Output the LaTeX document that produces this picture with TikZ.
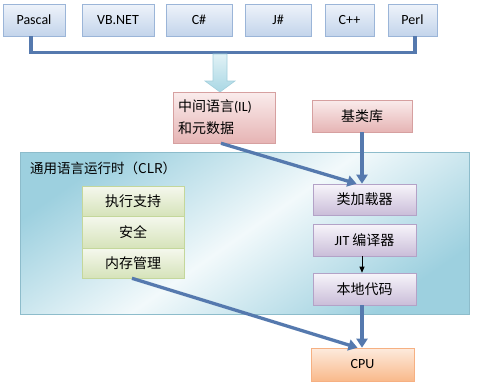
\documentclass[tikz,border=0pt]{standalone}
\usepackage{fontspec}
\setmainfont{Carlito}
\newfontfamily\cjk{Noto Sans CJK SC}
\usetikzlibrary{arrows.meta,shadows}
\definecolor{lnblue}{HTML}{5579AE}
\definecolor{tbTop}{HTML}{EEF3FA}\definecolor{tbBot}{HTML}{C3D4EB}\definecolor{tbLine}{HTML}{9BB5D8}
\definecolor{pkTop}{HTML}{FAECEC}\definecolor{pkBot}{HTML}{E6B4B4}\definecolor{pkLine}{HTML}{D6A0A0}
\definecolor{gnTop}{HTML}{F5F8EE}\definecolor{gnBot}{HTML}{D6E3BA}\definecolor{gnLine}{HTML}{C4D79B}
\definecolor{puTop}{HTML}{F7F5FA}\definecolor{puBot}{HTML}{CABDD9}\definecolor{puLine}{HTML}{B3A2C7}
\definecolor{orTop}{HTML}{FDEBDD}\definecolor{orBot}{HTML}{F9B98B}\definecolor{orLine}{HTML}{F6B082}
\definecolor{clrDark}{HTML}{9DD0DF}\definecolor{clrLight}{HTML}{F2F9FB}\definecolor{clrLine}{HTML}{8DBCCB}
\definecolor{haTop}{HTML}{E2F2F6}\definecolor{haBot}{HTML}{A9D7E4}\definecolor{haLine}{HTML}{A3CFDC}
\begin{document}
\begin{tikzpicture}[x=1pt,y=-1pt,
  every node/.style={font=\fontsize{14pt}{22pt}\selectfont, inner sep=0pt},
  shadowed/.style={drop shadow={opacity=0.25, shadow xshift=1.2pt, shadow yshift=-1.2pt}},
  box/.style={shadowed, draw, line width=0.6pt, minimum width=#1},
  topbox/.style={box=#1, draw=tbLine, top color=tbTop, bottom color=tbBot, minimum height=32},
  pinkbox/.style={box=#1, draw=pkLine, top color=pkTop, bottom color=pkBot},
  greenbox/.style={box=#1, draw=gnLine, top color=gnTop, bottom color=gnBot},
  purplebox/.style={box=#1, draw=puLine, top color=puTop, bottom color=puBot, minimum height=32},
  orangebox/.style={box=#1, draw=orLine, top color=orTop, bottom color=orBot, minimum height=33},
  bigline/.style={draw=lnblue, line width=3.3pt, -{Triangle[width=11pt,length=9pt]}},
  busline/.style={draw=lnblue, line width=3.3pt}
]
\useasboundingbox (0,0) rectangle (477,388);
% top language boxes
\node[topbox=62] (pa) at (34,20) {Pascal};
\node[topbox=72] (vb) at (118,20) {VB.NET};
\node[topbox=66] (cs) at (199,20) {C\#};
\node[topbox=66] (js) at (278,20) {J\#};
\node[topbox=49] (cp) at (349.5,20) {C++};
\node[topbox=49] (pe) at (412.5,20) {Perl};
\draw[busline] ([xshift=-3]pa.south) -- ++(0,16) -| ([xshift=2.5]pe.south);
% hollow arrow
\coordinate (ha) at (220,54);
\path[draw=haLine, line width=0.6pt, top color=haTop, bottom color=haBot]
  ([xshift=-7]ha) -- ++(0,27) -- ++(-8,0) -- ++(15,11) -- ++(15,-11) -- ++(-8,0) -- ++(0,-27) -- cycle;
% IL and base class library
\node[pinkbox=102, minimum height=51, align=left, text width=92] (il) at (224,117.5)
  {{\cjk 中间语言}(IL)\\{\cjk 和元数据}};
\node[pinkbox=100, minimum height=32] (jk) at (362,116) {\cjk 基类库};
% CLR region
\node[shadowed, draw=clrLine, line width=0.6pt, minimum width=449, minimum height=162,
  left color=clrDark, right color=clrDark, middle color=clrLight, shading angle=35]
  (clr) at (244.5,233) {};
\node[anchor=west] (clrt) at (30,168) {\cjk\fontsize{13.5pt}{16pt}\selectfont 通用语言运行时（CLR）};
% green boxes
\node[greenbox=102, minimum height=30] (zx) at (133,201) {\cjk 执行支持};
\node[greenbox=102, minimum height=32] (aq) at (133,232) {\cjk 安全};
\node[greenbox=102, minimum height=30] (nc) at (133,263) {\cjk 内存管理};
% purple boxes
\node[purplebox=103, minimum height=31] (cl) at (364.5,199.5) {\cjk 类加载器};
\node[purplebox=103] (jit) at (364.5,240) {JIT {\cjk 编译器}};
\node[purplebox=103] (bd) at (364.5,289) {\cjk 本地代码};
% CPU
\node[orangebox=103] (cpu) at (362.5,364.5) {CPU};
% connectors
\draw[bigline] ([xshift=-3]il.south) -- ([xshift=-8]cl.north);
\draw[bigline] (jk.south) -- (jk.south |- cl.north);
\draw[-{Triangle[width=5pt,length=6pt]}, line width=0.8pt] ([xshift=-2.5]jit.south) -- ([xshift=-2.5]bd.north);
\draw[bigline] ([xshift=-2.5]bd.south) -- ([xshift=-2.5]bd.south |- cpu.north);
\draw[bigline] ([xshift=-1]nc.south) -- ([xshift=-5]cpu.north);
\end{tikzpicture}
\end{document}
